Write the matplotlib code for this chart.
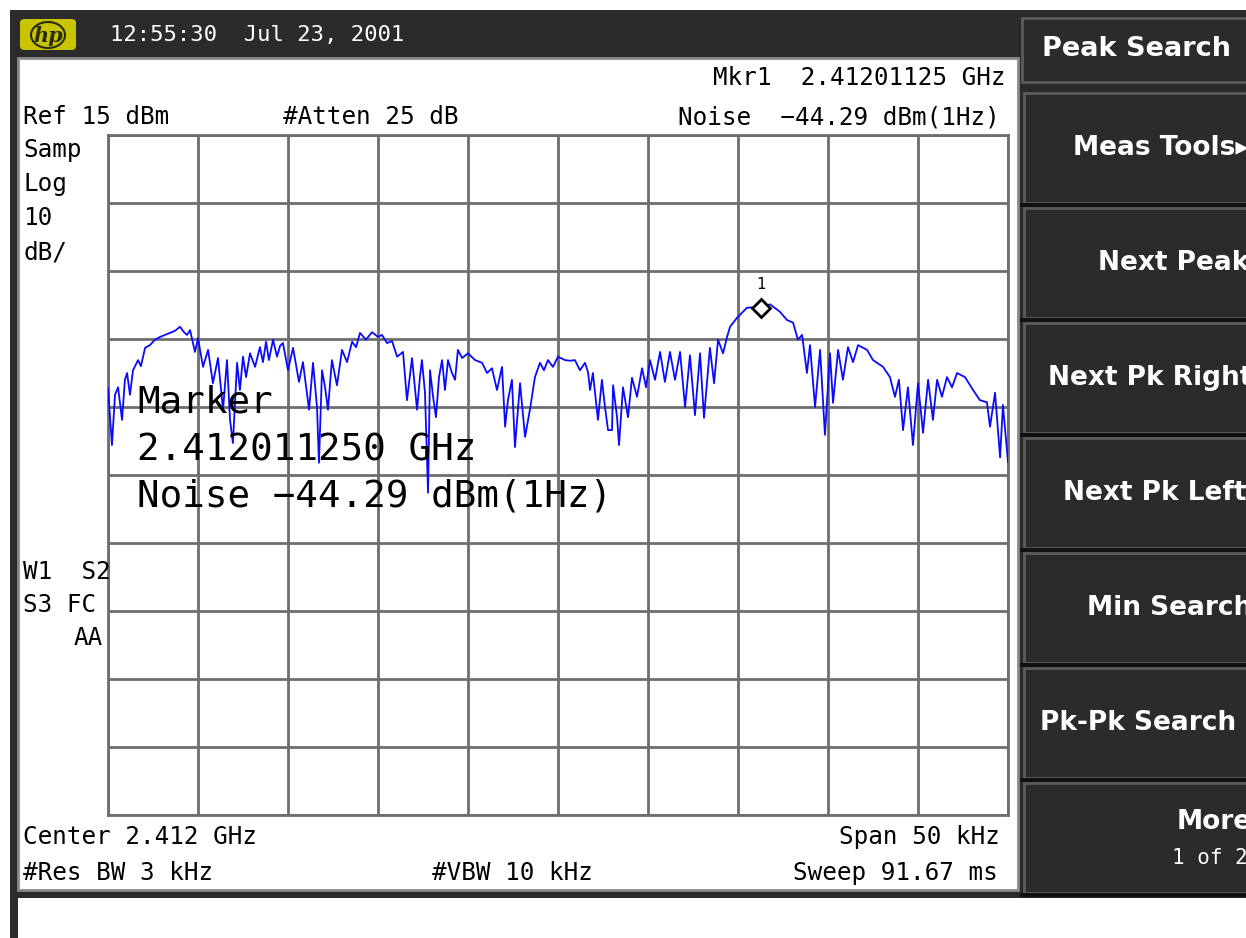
import matplotlib
matplotlib.use("Agg")
import matplotlib.pyplot as plt
from matplotlib.patches import Rectangle, FancyBboxPatch, Ellipse

# ----------------------
# Data
# ----------------------

# frequency offset from center (kHz) and trace level (dBm)
freq_khz = [
    -25.0, -24.78, -24.61, -24.44, -24.22, -24.06, -23.94, -23.78, -23.61, -23.33,
    -23.17, -22.94, -22.67, -22.39, -22.11, -21.83, -21.56, -21.28, -21.0, -20.78,
    -20.61, -20.44, -20.17, -20.0, -19.72, -19.44, -19.17, -18.89, -18.61, -18.39,
    -18.22, -18.06, -17.83, -17.67, -17.5, -17.33, -17.11, -16.83, -16.56, -16.39,
    -16.22, -16.06, -15.83, -15.61, -15.44, -15.28, -15.0, -14.72, -14.39, -14.17,
    -13.83, -13.61, -13.39, -13.28, -13.11, -12.94, -12.78, -12.56, -12.28, -12.0,
    -11.72, -11.44, -11.22, -11.0, -10.67, -10.33, -10.0, -9.78, -9.5, -9.22,
    -8.94, -8.61, -8.39, -8.11, -7.83, -7.67, -7.56, -7.39, -7.22, -7.11,
    -6.94, -6.78, -6.61, -6.44, -6.28, -6.11, -5.89, -5.72, -5.56, -5.33,
    -5.0, -4.61, -4.22, -3.94, -3.67, -3.39, -3.11, -2.94, -2.78, -2.56,
    -2.39, -2.11, -1.83, -1.56, -1.28, -1.0, -0.78, -0.56, -0.28, 0.0,
    0.39, 0.67, 0.94, 1.22, 1.5, 1.67, 1.78, 1.94, 2.22, 2.44,
    2.61, 2.78, 3.0, 3.06, 3.28, 3.39, 3.61, 3.89, 4.11, 4.39,
    4.67, 4.89, 5.11, 5.39, 5.67, 5.94, 6.22, 6.5, 6.78, 7.06,
    7.33, 7.61, 7.89, 8.11, 8.44, 8.67, 8.89, 9.17, 9.39, 9.56,
    9.94, 10.5, 11.06, 11.25, 11.78, 12.33, 12.72, 13.06, 13.33, 13.56,
    13.83, 14.0, 14.28, 14.56, 14.83, 15.11, 15.28, 15.56, 15.83, 16.11,
    16.39, 16.67, 17.17, 17.5, 18.06, 18.44, 18.72, 18.94, 19.17, 19.44,
    19.72, 20.0, 20.28, 20.56, 20.83, 21.06, 21.33, 21.61, 21.89, 22.17,
    22.61, 23.06, 23.44, 23.83, 24.0, 24.28, 24.56, 24.72, 25.0,
]
level_dbm = [
    -22.2, -30.6, -23.2, -22.1, -26.9, -21.0, -20.0, -23.2, -19.6, -18.1,
    -19.0, -16.3, -15.9, -15.1, -14.7, -14.4, -14.1, -13.8, -13.2, -14.0,
    -14.4, -13.7, -16.9, -14.9, -19.1, -16.6, -21.5, -17.8, -25.4, -18.1,
    -26.9, -30.3, -18.5, -22.5, -17.6, -20.6, -17.1, -19.1, -16.2, -18.4,
    -15.4, -18.1, -15.1, -17.6, -16.0, -15.6, -19.6, -16.3, -21.3, -18.4,
    -25.4, -18.5, -25.0, -33.2, -19.6, -22.1, -25.4, -18.1, -21.8, -16.6,
    -18.4, -15.4, -16.2, -14.1, -15.1, -14.0, -14.7, -14.4, -15.6, -15.3,
    -17.6, -16.9, -24.0, -17.8, -25.4, -20.6, -18.1, -22.9, -37.6, -19.6,
    -23.5, -26.5, -20.6, -18.1, -22.5, -18.1, -20.0, -21.0, -16.6, -17.8,
    -17.1, -18.1, -18.5, -20.0, -19.3, -22.5, -19.1, -27.9, -24.0, -21.0,
    -30.9, -21.5, -29.4, -25.4, -20.6, -18.5, -19.6, -18.1, -19.1, -17.6,
    -18.1, -18.2, -18.1, -19.6, -18.5, -19.9, -22.5, -20.0, -26.9, -21.0,
    -25.0, -28.4, -28.4, -21.8, -26.5, -30.6, -22.1, -26.5, -20.7, -23.5,
    -19.3, -22.1, -18.1, -21.0, -16.9, -21.3, -16.9, -21.0, -16.9, -25.0,
    -17.4, -26.2, -17.1, -26.6, -16.3, -21.5, -15.1, -17.1, -14.7, -13.2,
    -11.9, -10.4, -10.3, -10.4, -9.9, -11.0, -12.2, -12.6, -15.1, -14.4,
    -20.0, -15.9, -25.0, -16.6, -29.1, -17.1, -24.4, -16.6, -21.0, -16.2,
    -18.4, -15.9, -16.6, -18.1, -19.1, -20.6, -23.5, -21.0, -28.4, -22.1,
    -30.6, -21.5, -28.8, -21.0, -26.9, -21.0, -23.5, -20.6, -22.1, -20.0,
    -20.6, -22.5, -24.0, -24.3, -27.9, -22.9, -32.4, -24.7, -33.1,
]

ref_level = 15
db_per_div = 10
span_khz = 50
marker_khz = 11.25
marker_dbm = -10.4

softkeys = ["Meas Tools\u25b8", "Next Peak", "Next Pk Right", "Next Pk Left",
            "Min Search", "Pk-Pk Search", "More"]
softkey_left = [1073, 1098, 1048, 1063, 1087, 1040, 1177]

# ----------------------
# Helpers in pixel coordinates (y from the top)
# ----------------------
W, H = 1246, 938
fig = plt.figure(figsize=(W / 100, H / 100), dpi=100)
fig.patch.set_facecolor("white")

def fx(x):
    return x / W

def fy(y):
    return 1 - y / H

def rect(x0, y0, x1, y1, **kw):
    kw.setdefault("zorder", -5)
    r = Rectangle((fx(x0), fy(y1)), (x1 - x0) / W, (y1 - y0) / H,
                  transform=fig.transFigure, **kw)
    fig.add_artist(r)

def txt(x, y, s, **kw):
    fig.text(fx(x), fy(y), s, **kw)

mono = "DejaVu Sans Mono"
dark = "#2b2b2b"

# instrument frame
rect(10, 10, 1246, 898, facecolor=dark, edgecolor="none", zorder=-10)
rect(10, 898, 18, 938, facecolor=dark, edgecolor="none", zorder=-10)

# screen area
rect(18, 58, 1018, 890, facecolor="white", edgecolor="#8a8a8a", linewidth=2, zorder=-8)

# hp logo + date line
logo = FancyBboxPatch((fx(20), fy(50)), 56 / W, 31 / H, boxstyle="round,pad=0,rounding_size=0.004",
                      transform=fig.transFigure, facecolor="#c9c400", edgecolor="none")
fig.add_artist(logo)
fig.add_artist(Ellipse((fx(48), fy(35)), 34 / W, 26 / H, transform=fig.transFigure,
                       facecolor="none", edgecolor="#2b2b00", linewidth=1.5))
txt(48, 36, "hp", ha="center", va="center", fontsize=15, fontstyle="italic",
    fontweight="bold", color="#2b2b00", family="DejaVu Serif")
txt(110, 35, "12:55:30  Jul 23, 2001", ha="left", va="center", fontsize=16,
    color="white", family=mono)

# softkey panel (labels run past the right edge, as on the instrument capture)
rect(1022, 18, 1250, 82, facecolor=dark, edgecolor="#5c5c5c", linewidth=2)
txt(1042, 49, "Peak Search", ha="left", va="center", fontsize=19.5, color="white",
    fontweight="bold", family="DejaVu Sans")
for i in range(len(softkeys)):
    top = 93 + i * 115
    rect(1024, top, 1250, top + 110, facecolor=dark, edgecolor="#5c5c5c", linewidth=2)
    rect(1020, top + 110, 1250, top + 114, facecolor="#111111", edgecolor="none")
    cy = top + 55
    if softkeys[i] == "More":
        txt(softkey_left[i], cy - 16, "More", ha="left", va="center", fontsize=19,
            color="white", fontweight="bold", family="DejaVu Sans")
        txt(1172, cy + 20, "1 of 2", ha="left", va="center", fontsize=15,
            color="white", family=mono)
    else:
        txt(softkey_left[i], cy, softkeys[i], ha="left", va="center", fontsize=19,
            color="white", fontweight="bold", family="DejaVu Sans")

# ----------------------
# Trace graticule
# ----------------------
ax = fig.add_axes([fx(108), fy(815), 900 / W, 680 / H])
ax.set_zorder(1)
ax.patch.set_alpha(0)
ax.set_xlim(-span_khz / 2, span_khz / 2)
ax.set_ylim(ref_level - 10 * db_per_div, ref_level)
ax.set_xticks([-span_khz / 2 + k * span_khz / 10 for k in range(11)])
ax.set_yticks([ref_level - k * db_per_div for k in range(11)])
ax.grid(True, color="#6e6e6e", linewidth=2)
ax.tick_params(length=0, labelbottom=False, labelleft=False)
for s in ax.spines.values():
    s.set_color("#6e6e6e")
    s.set_linewidth(2)

ax.plot(freq_khz, level_dbm, color="#0a0aff", linewidth=1.3, clip_on=True, zorder=3)
ax.plot([marker_khz], [marker_dbm], marker="D", markersize=9, markerfacecolor="white",
        markeredgecolor="black", markeredgewidth=2, linestyle="none", zorder=4)
ax.annotate("1", (marker_khz, marker_dbm), xytext=(0, 17), textcoords="offset points",
            ha="center", va="center", fontsize=11, family=mono, zorder=4)

# ----------------------
# Screen annotations
# ----------------------
small = dict(fontsize=17.5, family=mono, color="black", va="center")
txt(1005, 78, "Mkr1  2.41201125 GHz", ha="right", **small)
txt(23, 117, "Ref 15 dBm", ha="left", **small)
txt(283, 117, "#Atten 25 dB", ha="left", **small)
txt(1000, 117, "Noise  \u221244.29 dBm(1Hz)", ha="right", **small)
for j, s in enumerate(["Samp", "Log", "10", "dB/"]):
    txt(23, 150 + 34 * j, s, ha="left", **small)
txt(23, 572, "W1  S2", ha="left", **small)
txt(23, 605, "S3 FC", ha="left", **small)
txt(103, 638, "AA", ha="right", **small)
txt(23, 837, "Center 2.412 GHz", ha="left", **small)
txt(1000, 837, "Span 50 kHz", ha="right", **small)
txt(23, 873, "#Res BW 3 kHz", ha="left", **small)
txt(432, 873, "#VBW 10 kHz", ha="left", **small)
txt(998, 873, "Sweep 91.67 ms", ha="right", **small)

big = dict(fontsize=27, family=mono, color="black", va="center", ha="left", zorder=5)
txt(137, 402, "Marker", **big)
txt(137, 450, "2.412011250 GHz", **big)
txt(137, 497, "Noise \u221244.29 dBm(1Hz)", **big)

fig.savefig("out.png", dpi=100, facecolor=fig.get_facecolor())
